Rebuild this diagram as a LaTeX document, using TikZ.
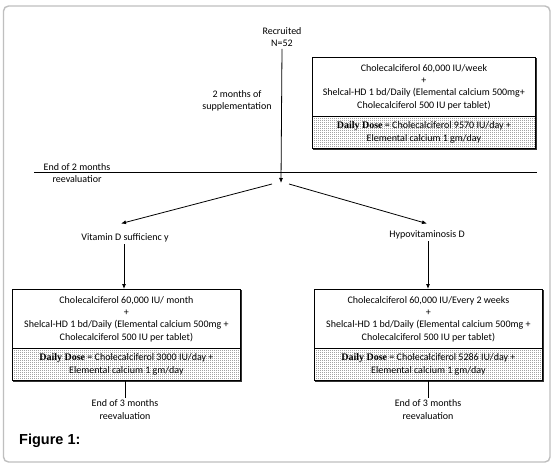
\documentclass[tikz,border=0pt]{standalone}
\usepackage{fontspec}
\setmainfont{Carlito}
\newfontfamily\serifbold{Liberation Serif}
\newfontfamily\figfont{Liberation Sans}
\usetikzlibrary{patterns.meta,calc,arrows.meta}
\tikzdeclarepattern{
  name=finedots,
  type=uncolored,
  bottom left={(0pt,0pt)},
  top right={(2pt,2pt)},
  tile size={(2pt,2pt)},
  code={\fill (0pt,0pt) rectangle (1pt,1pt);}
}
\tikzset{
  txt/.style={font=\fontsize{10}{12.3}\selectfont, align=center, inner sep=2pt},
  upbox/.style={draw, line width=0.8pt, anchor=north west, inner sep=0pt, align=center,
    font=\fontsize{10}{12.3}\selectfont, fill=white},
  dotbox/.style={draw, line width=0.8pt, anchor=north west, inner sep=0pt, align=center,
    font=\fontsize{10}{12.3}\selectfont, pattern={finedots}, pattern color=black!85},
  arr/.style={line width=0.8pt, -{Latex[length=5pt,width=4pt]}},
  ln/.style={line width=0.8pt},
  shadowln/.style={line width=1.6pt, black!80},
}
\newcommand{\dd}{{\serifbold\bfseries Daily Dose}}
\begin{document}
\begin{tikzpicture}[x=1pt,y=-1pt]
\useasboundingbox (0,0) rectangle (555,469);
\fill[white] (0,0) rectangle (555,469);
\draw[black!25, line width=1.4pt, rounded corners=5pt] (3.5,6) rectangle (550,462);

% top
\node[txt] (rec) at (282,37) {Recruited\\N=52};
\node[txt] (sup) at (237,101) {2 months of\\supplementation};

\draw[shadowln] (536,58) -- (536,149) -- (313,149);
\node[upbox, minimum width=223pt, minimum height=59pt] (tA) at (312,57)
  {Cholecalciferol 60,000 IU/week\\+\\Shelcal-HD 1 bd/Daily (Elemental calcium 500mg+\\Cholecalciferol 500 IU per tablet)};
\node[dotbox, minimum width=223pt, minimum height=32pt] (tB) at (312,116)
  {\dd{} = Cholecalciferol 9570 IU/day +\\Elemental calcium 1 gm/day};

% reevaluation line
\coordinate (hl) at (34,172);
\coordinate (hr) at (537,172);
\draw[ln] (hl) -- (hr);
\node[txt] (e2) at (77,173) {End of 2 months\\reevaluatior};

\coordinate (split) at (281,183);
\draw[arr] (rec.south) -- (split);
\coordinate (sl) at (272,184);
\coordinate (sr) at (289,184);

\node[txt] (vit) at (125,238) {Vitamin D sufficienc y};
\node[txt] (hyp) at (427,235) {Hypovitaminosis D};
\draw[arr] (sl) -- ([xshift=-4pt,yshift=8pt]vit.north);
\draw[arr] (sr) -- ([yshift=5pt]hyp.north);

% left box
\draw[shadowln] (241,290) -- (241,381) -- (13,381);
\node[upbox, minimum width=228pt, minimum height=59pt] (lA) at (12,289)
  {Cholecalciferol 60,000 IU/ month\\+\\Shelcal-HD 1 bd/Daily (Elemental calcium 500mg +\\Cholecalciferol 500 IU per tablet)};
\node[dotbox, minimum width=228pt, minimum height=32pt] (lB) at (12,348)
  {\dd{} = Cholecalciferol 3000 IU/day +\\Elemental calcium 1 gm/day};

% right box
\draw[shadowln] (543,290) -- (543,381) -- (315,381);
\node[upbox, minimum width=228pt, minimum height=59pt] (rA) at (314,289)
  {Cholecalciferol 60,000 IU/Every 2 weeks\\+\\Shelcal-HD 1 bd/Daily (Elemental calcium 500mg +\\Cholecalciferol 500 IU per tablet)};
\node[dotbox, minimum width=228pt, minimum height=32pt] (rB) at (314,348)
  {\dd{} = Cholecalciferol 5286 IU/day +\\Elemental calcium 1 gm/day};

\draw[arr] ([xshift=-1pt]vit.south) -- ([xshift=-1pt]vit.south |- lA.north);
\draw[arr] ([xshift=1pt]hyp.south) -- ([xshift=1pt]hyp.south |- rA.north);

% bottom
\node[txt] (e3l) at (125,409.5) {End of 3 months\\reevaluation};
\node[txt] (e3r) at (428,409.5) {End of 3 months\\reevaluation};
\draw[ln] (lB.south -| e3l.north) -- (e3l.north);
\draw[ln] (rB.south -| e3r.north) -- (e3r.north);

\node[anchor=west, inner sep=0pt, font=\figfont\bfseries\fontsize{14.5}{16}\selectfont] (fig) at (19,441) {Figure 1:};
\end{tikzpicture}
\end{document}
